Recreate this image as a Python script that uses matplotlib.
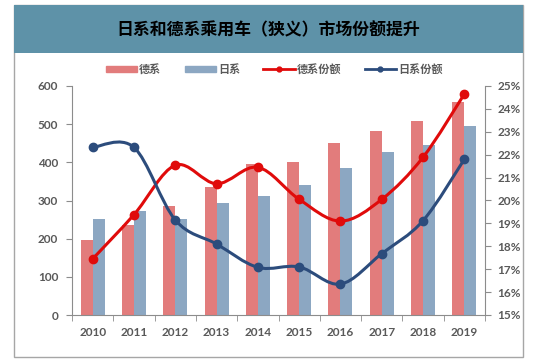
import matplotlib
matplotlib.use("Agg")
import matplotlib.pyplot as plt
from matplotlib.path import Path
from matplotlib.patches import PathPatch, Rectangle
from matplotlib.lines import Line2D
from matplotlib.patches import Patch
import numpy as np

plt.rcParams['font.family'] = ['Noto Sans CJK SC', 'DejaVu Sans']

years = ['2010', '2011', '2012', '2013', '2014', '2015', '2016', '2017', '2018', '2019']
de_sales = [196, 236, 286, 336, 395, 400, 450, 483, 507, 557]
jp_sales = [252, 273, 252, 293, 313, 341, 384, 426, 445, 494]
de_share = [17.45, 19.38, 21.54, 20.73, 21.45, 20.05, 19.10, 20.05, 21.89, 24.65]
jp_share = [22.32, 22.32, 19.15, 18.10, 17.08, 17.10, 16.35, 17.68, 19.12, 21.80]

title = '日系和德系乘用车（狭义）市场份额提升'
labels = ['德系', '日系', '德系份额', '日系份额']

RED_BAR = '#e27c7c'
BLUE_BAR = '#8ca7c2'
RED_LINE = '#e00b0b'
BLUE_LINE = '#2c4c7c'
TXT = '#595959'
SPINE = '#8c8c8c'
NUMFONT = ['Lato', 'DejaVu Sans']

W, H = 554, 363
fig = plt.figure(figsize=(W / 100, H / 100), dpi=100)

# outer frame and title band
frame = Rectangle((14 / W, 1 - 357 / H), (523 - 14) / W, (357 - 5) / H,
                  transform=fig.transFigure, facecolor='white', edgecolor='#a6a6a6', lw=1.0, zorder=0)
fig.patches.append(frame)
band = Rectangle((14 / W, 1 - 53 / H), (523 - 14) / W, (53 - 5) / H,
                 transform=fig.transFigure, facecolor='#5e92a8', edgecolor='none', zorder=1)
fig.patches.append(band)
fig.text(0.5 * (14 + 523) / W, 1 - 30 / H, title, ha='center', va='center',
         fontsize=12.2, color='black', fontweight='bold')

ax = fig.add_axes([72 / W, 1 - 315 / H, (485 - 72) / W, (315 - 86) / H])
ax2 = ax.twinx()
ax.set_zorder(1)
ax2.set_zorder(2)
ax.patch.set_visible(False)

x = np.arange(len(years))
bw = 0.29
ax.bar(x - bw / 2, de_sales, bw, color=RED_BAR, zorder=2)
ax.bar(x + bw / 2, jp_sales, bw, color=BLUE_BAR, zorder=2)
ax.set_ylim(0, 600)
ax.set_yticks(range(0, 601, 100))
ax.set_xlim(-0.5, len(years) - 0.5)
ax.set_xticks(x)
ax.set_xticklabels(years)
ax.set_xticks(np.arange(-0.5, len(years), 1), minor=True)
ax.tick_params(axis='x', which='major', length=0, pad=9)
ax.tick_params(axis='x', which='minor', length=4, color=SPINE, direction='out')
ax.tick_params(axis='y', length=4, color=SPINE, direction='out', pad=6)
for lab in ax.get_xticklabels() + ax.get_yticklabels():
    lab.set_fontsize(8.5)
    lab.set_color(TXT)
    lab.set_fontweight('bold')
    lab.set_family(NUMFONT)

for s in ['top', 'right']:
    ax.spines[s].set_visible(False)
for s in ['left', 'bottom']:
    ax.spines[s].set_color(SPINE)


def smooth_path(xs, ys):
    pts = np.column_stack([xs, ys]).astype(float)
    n = len(pts)
    verts = [pts[0]]
    codes = [Path.MOVETO]
    for i in range(n - 1):
        p0 = pts[i - 1] if i > 0 else pts[i]
        p1 = pts[i]
        p2 = pts[i + 1]
        p3 = pts[i + 2] if i + 2 < n else pts[i + 1]
        c1 = p1 + (p2 - p0) / 6.0
        c2 = p2 - (p3 - p1) / 6.0
        verts += [c1, c2, p2]
        codes += [Path.CURVE4] * 3
    return Path(verts, codes)


ax2.set_ylim(15, 25)
ax2.set_yticks(range(15, 26))
ax2.set_yticklabels([f'{v}%' for v in range(15, 26)])
for share, col in [(de_share, RED_LINE), (jp_share, BLUE_LINE)]:
    ax2.add_patch(PathPatch(smooth_path(x, share), facecolor='none', edgecolor=col, lw=2.2, zorder=3))
    ax2.plot(x, share, 'o', color=col, ms=6, zorder=4)
ax2.tick_params(axis='y', length=4, color=SPINE, direction='out', pad=5)
for lab in ax2.get_yticklabels():
    lab.set_fontsize(8.5)
    lab.set_color(TXT)
    lab.set_fontweight('bold')
    lab.set_family(NUMFONT)
for s in ['top', 'left', 'bottom']:
    ax2.spines[s].set_visible(False)
ax2.spines['right'].set_color(SPINE)

handles = [Patch(color=RED_BAR), Patch(color=BLUE_BAR),
           Line2D([], [], color=RED_LINE, lw=2, marker='o', ms=3.5),
           Line2D([], [], color=BLUE_LINE, lw=2, marker='o', ms=3.5)]
leg = fig.legend(handles, labels, loc='center', bbox_to_anchor=(0.5 * (14 + 523) / W + 0.01, 1 - 69 / H),
                 ncol=4, frameon=False, fontsize=8, handlelength=2.8, handleheight=0.45,
                 columnspacing=2.1, handletextpad=0.2)
for t in leg.get_texts():
    t.set_color(TXT)
    t.set_fontweight('bold')

fig.savefig('out.png', dpi=100)
